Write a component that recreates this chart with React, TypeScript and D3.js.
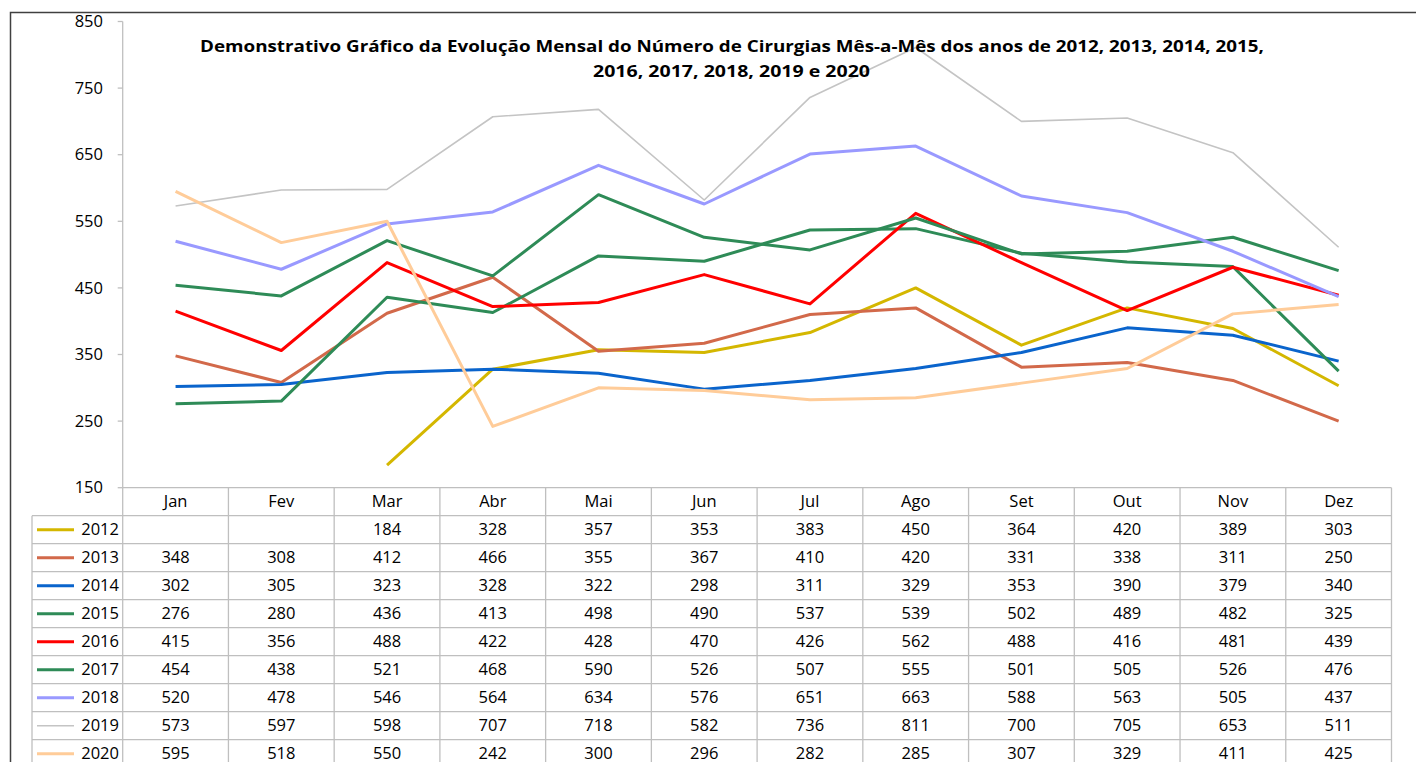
import React from "react";
import * as d3 from "d3";

const months = ["Jan", "Fev", "Mar", "Abr", "Mai", "Jun", "Jul", "Ago", "Set", "Out", "Nov", "Dez"];
const yTicks = [150, 250, 350, 450, 550, 650, 750, 850];
const years = ["2012", "2013", "2014", "2015", "2016", "2017", "2018", "2019", "2020"];

const s2012 = [null, null, 184, 328, 357, 353, 383, 450, 364, 420, 389, 303];
const s2013 = [348, 308, 412, 466, 355, 367, 410, 420, 331, 338, 311, 250];
const s2014 = [302, 305, 323, 328, 322, 298, 311, 329, 353, 390, 379, 340];
const s2015 = [276, 280, 436, 413, 498, 490, 537, 539, 502, 489, 482, 325];
const s2016 = [415, 356, 488, 422, 428, 470, 426, 562, 488, 416, 481, 439];
const s2017 = [454, 438, 521, 468, 590, 526, 507, 555, 501, 505, 526, 476];
const s2018 = [520, 478, 546, 564, 634, 576, 651, 663, 588, 563, 505, 437];
const s2019 = [573, 597, 598, 707, 718, 582, 736, 811, 700, 705, 653, 511];
const s2020 = [595, 518, 550, 242, 300, 296, 282, 285, 307, 329, 411, 425];

const seriesValues = [s2012, s2013, s2014, s2015, s2016, s2017, s2018, s2019, s2020];
const colors = ["#D4B700", "#D2694A", "#0A64CC", "#2E8B57", "#FF0000", "#2E8B57", "#9999FF", "#C4C4C4", "#FFCC99"];
const widths = [3, 3, 3, 3, 3, 3, 3, 1.6, 3];

const title1 = "Demonstrativo Gráfico da Evolução Mensal do Número de Cirurgias Mês-a-Mês dos anos de  2012, 2013, 2014, 2015,";
const title2 = "2016, 2017, 2018, 2019 e 2020";

export default function App() {
  const W = 1416, H = 762;
  const left = 122.7, right = 1391.5;
  const top = 21.5, bottom = 487.7;
  const rowH = 28;
  const legendLeft = 32;
  const font = "'Open Sans', 'DejaVu Sans', sans-serif";
  const fs = 16.5;

  const x = d3.scaleBand<string>().domain(months).range([left, right]).padding(0);
  const y = d3.scaleLinear().domain([150, 850]).range([bottom, top]);
  const line = d3.line<number | null>()
    .defined((d) => d !== null)
    .x((_, i) => (x(months[i]) as number) + x.bandwidth() / 2)
    .y((d) => y(d as number));

  const grid = "#BFBFBF";
  const headerTop = bottom;
  const rowsTop = headerTop + rowH;
  const tableBottom = rowsTop + rowH * years.length;

  return (
    <svg width={W} height={H} style={{ position: "absolute", left: 0, top: 0, background: "#fff" }}>
      <rect x={0} y={0} width={W} height={H} fill="#fff" />
      {/* outer border */}
      <path d={`M10.5,${H} V12.5 H${W}`} fill="none" stroke="#404040" strokeWidth={1.5} />
      {/* y axis */}
      <line x1={left} x2={left} y1={top} y2={bottom} stroke={grid} strokeWidth={1.3} />
      {yTicks.map((t) => (
        <g key={t}>
          <line x1={left - 5} x2={left} y1={y(t)} y2={y(t)} stroke={grid} strokeWidth={1.3} />
          <text x={103} y={y(t)} dy="0.35em" textAnchor="end" fontFamily={font} fontSize={fs} fill="#000">{t}</text>
        </g>
      ))}
      {/* lines */}
      {seriesValues.map((s, i) => (
        <path key={years[i]} d={line(s) || ""} fill="none" stroke={colors[i]} strokeWidth={widths[i]} strokeLinejoin="round" />
      ))}
      {/* title */}
      <text x={732} y={52} textAnchor="middle" fontFamily={font} fontWeight="bold" fontSize={16.5} fill="#000" textLength={1064} lengthAdjust="spacingAndGlyphs">{title1}</text>
      <text x={731.5} y={77} textAnchor="middle" fontFamily={font} fontWeight="bold" fontSize={16.5} fill="#000" textLength={277} lengthAdjust="spacingAndGlyphs">{title2}</text>
      {/* table grid */}
      <line x1={left} x2={right} y1={headerTop} y2={headerTop} stroke={grid} strokeWidth={1.3} />
      {d3.range(years.length + 1).map((r) => (
        <line key={"h" + r} x1={legendLeft} x2={right} y1={rowsTop + r * rowH} y2={rowsTop + r * rowH} stroke={grid} strokeWidth={1.3} />
      ))}
      <line x1={legendLeft} x2={legendLeft} y1={rowsTop} y2={tableBottom} stroke={grid} strokeWidth={1.3} />
      {months.map((m) => (
        <line key={"v" + m} x1={x(m) as number} x2={x(m) as number} y1={headerTop} y2={tableBottom} stroke={grid} strokeWidth={1.3} />
      ))}
      <line x1={right} x2={right} y1={headerTop} y2={tableBottom} stroke={grid} strokeWidth={1.3} />
      {/* header */}
      {months.map((m) => (
        <text key={"t" + m} x={(x(m) as number) + x.bandwidth() / 2} y={headerTop + rowH / 2} dy="0.35em" textAnchor="middle" fontFamily={font} fontSize={fs} fill="#000">{m}</text>
      ))}
      {/* rows */}
      {years.map((yr, i) => {
        const cy = rowsTop + i * rowH + rowH / 2;
        return (
          <g key={"r" + yr}>
            <line x1={37} x2={74} y1={cy} y2={cy} stroke={colors[i]} strokeWidth={widths[i]} />
            <text x={119} y={cy} dy="0.35em" textAnchor="end" fontFamily={font} fontSize={fs} fill="#000">{yr}</text>
            {seriesValues[i].map((v, j) =>
              v === null ? null : (
                <text key={j} x={(x(months[j]) as number) + x.bandwidth() / 2} y={cy} dy="0.35em" textAnchor="middle" fontFamily={font} fontSize={fs} fill="#000">{v}</text>
              )
            )}
          </g>
        );
      })}
    </svg>
  );
}
